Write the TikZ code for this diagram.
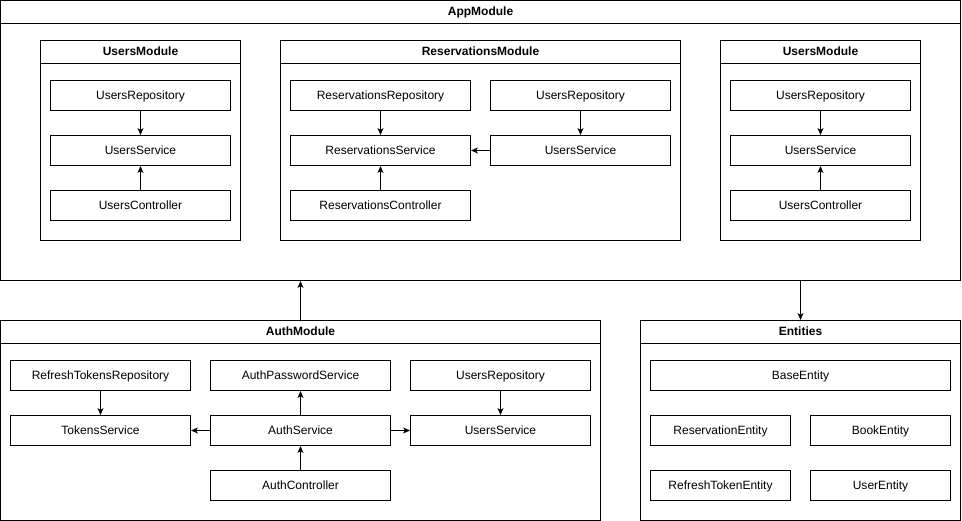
\documentclass[tikz,border=0pt]{standalone}
\usepackage{fontspec}
\setmainfont{Liberation Sans}
\usetikzlibrary{arrows.meta}

\begin{document}
\begin{tikzpicture}[x=1bp, y=-1bp, line width=1bp, font=\fontsize{12bp}{14bp}\selectfont,
    >={Stealth[length=7bp,width=6bp,inset=2bp]},
    box/.style={draw, inner sep=0pt, minimum width=180bp, minimum height=30bp, text height=9bp, text depth=1bp},
    module/.style={draw, inner sep=0pt},
    head/.style={draw, inner sep=0pt, minimum height=23bp, text height=9bp, text depth=1bp, font=\fontsize{12bp}{14bp}\selectfont\bfseries}]

    \useasboundingbox (0,0) rectangle (962,521);

    % app module
    \node[module, minimum width=960bp, minimum height=280bp] (app) at (480.5,140.5) {};
    \node[head, minimum width=960bp] (apph) at (480.5,12) {AppModule};

    % users module (left)
    \node[module, minimum width=200bp, minimum height=200bp] (um1) at (140.5,140.5) {};
    \node[head, minimum width=200bp] (um1h) at (140.5,52) {UsersModule};
    \node[box] (um1repo) at (140.5,95.5) {UsersRepository};
    \node[box] (um1serv) at (140.5,150.5) {UsersService};
    \node[box] (um1ctrl) at (140.5,205.5) {UsersController};

    % reservations module
    \node[module, minimum width=400bp, minimum height=200bp] (rm) at (480.5,140.5) {};
    \node[head, minimum width=400bp] (rmh) at (480.5,52) {ReservationsModule};
    \node[box] (rmrepo) at (380.5,95.5) {ReservationsRepository};
    \node[box] (rmurepo) at (580.5,95.5) {UsersRepository};
    \node[box] (rmserv) at (380.5,150.5) {ReservationsService};
    \node[box] (rmuserv) at (580.5,150.5) {UsersService};
    \node[box] (rmctrl) at (380.5,205.5) {ReservationsController};

    % users module (right)
    \node[module, minimum width=200bp, minimum height=200bp] (um2) at (820.5,140.5) {};
    \node[head, minimum width=200bp] (um2h) at (820.5,52) {UsersModule};
    \node[box] (um2repo) at (820.5,95.5) {UsersRepository};
    \node[box] (um2serv) at (820.5,150.5) {UsersService};
    \node[box] (um2ctrl) at (820.5,205.5) {UsersController};

    % auth module
    \node[module, minimum width=600bp, minimum height=200bp] (auth) at (300.5,420.5) {};
    \node[head, minimum width=600bp] (authh) at (300.5,332) {AuthModule};
    \node[box] (atrepo) at (100.5,375.5) {RefreshTokensRepository};
    \node[box] (apass) at (300.5,375.5) {AuthPasswordService};
    \node[box] (aurepo) at (500.5,375.5) {UsersRepository};
    \node[box] (atok) at (100.5,430.5) {TokensService};
    \node[box] (aserv) at (300.5,430.5) {AuthService};
    \node[box] (auserv) at (500.5,430.5) {UsersService};
    \node[box] (actrl) at (300.5,485.5) {AuthController};

    % entities
    \node[module, minimum width=320bp, minimum height=200bp] (ent) at (800.5,420.5) {};
    \node[head, minimum width=320bp] (enth) at (800.5,332) {Entities};
    \node[box, minimum width=300bp] (ebase) at (800.5,375.5) {BaseEntity};
    \node[box, minimum width=140bp] (eres) at (720.5,430.5) {ReservationEntity};
    \node[box, minimum width=140bp] (ebook) at (880.5,430.5) {BookEntity};
    \node[box, minimum width=140bp] (etok) at (720.5,485.5) {RefreshTokenEntity};
    \node[box, minimum width=140bp] (euser) at (880.5,485.5) {UserEntity};

    \path[->]
        (um1repo) edge (um1serv)
        (um1ctrl) edge (um1serv)
        (rmrepo) edge (rmserv)
        (rmurepo) edge (rmuserv)
        (rmuserv) edge (rmserv)
        (rmctrl) edge (rmserv)
        (um2repo) edge (um2serv)
        (um2ctrl) edge (um2serv)
        (atrepo) edge (atok)
        (aurepo) edge (auserv)
        (aserv) edge (atok)
        (aserv) edge (auserv)
        (aserv) edge (apass)
        (actrl) edge (aserv)
        (auth.north) edge (auth.north |- app.south)
        (ent.north |- app.south) edge (ent.north)
        ;
\end{tikzpicture}
\end{document}
